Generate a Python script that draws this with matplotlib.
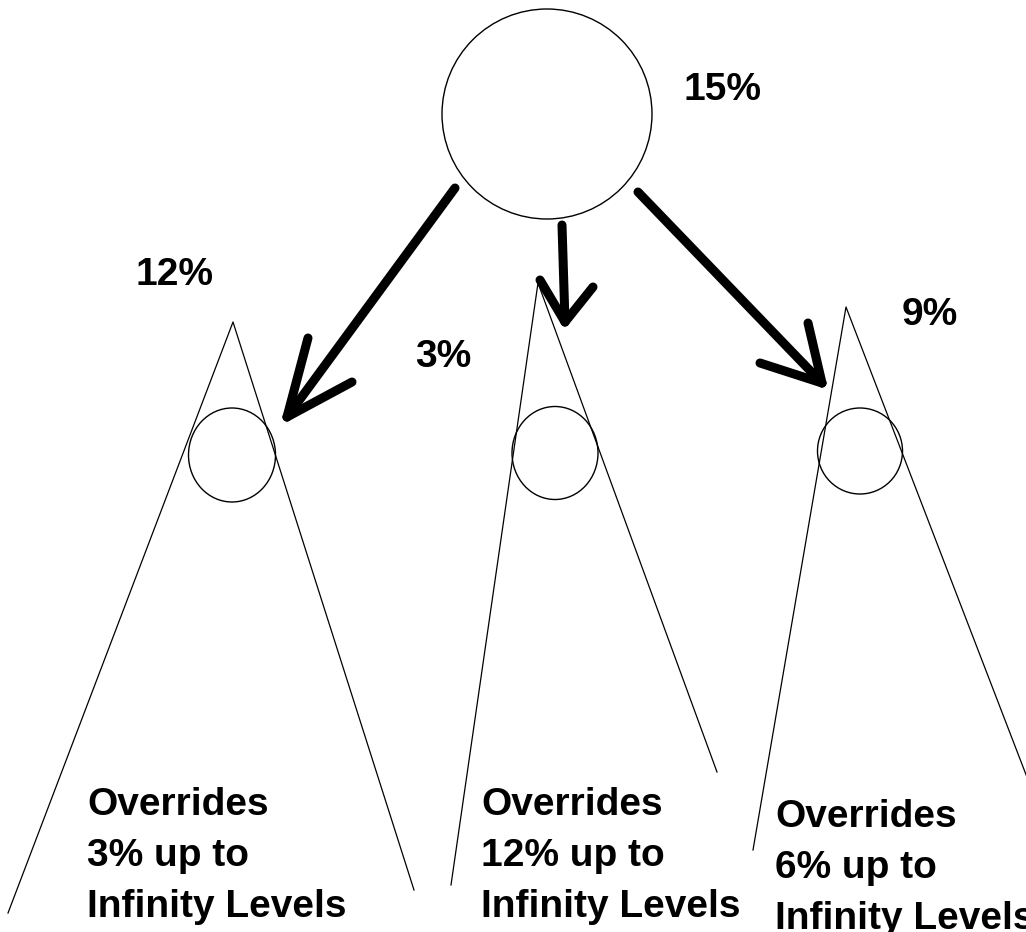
import matplotlib
matplotlib.use('Agg')
import matplotlib.pyplot as plt
from matplotlib.patches import Circle, Ellipse

# 图的几何信息 (像素坐标, y 向下)
top_circle = (547, 114, 105)           # 顶部大圆: 圆心 x, y, 半径
top_label = '15%'

# 三个三角形: 顶点, 左下角, 右下角
triangles = [
    [(233, 322), (8, 913), (414, 890)],
    [(538, 283), (451, 885), (717, 772)],
    [(846, 307), (753, 850), (1030, 785)],
]
# 三角形内的小圆 (圆心 x, y, 宽, 高)
small_circles = [
    (232, 455, 87, 94),
    (555, 453, 86, 93),
    (860, 451, 85, 86),
]

branch_labels = ['12%', '3%', '9%']
branch_label_pos = [(135, 285), (415, 367), (902, 325)]

# 箭头: 起点, 终点, 两个倒钩端点
arrows = [
    [(455, 188), (287, 417), (308, 338), (352, 382)],
    [(562, 225), (565, 322), (540, 280), (593, 287)],
    [(638, 192), (822, 383), (808, 323), (760, 363)],
]

override_pct = ['3%', '12%', '6%']
block_pos = [(87, 815), (481, 815), (775, 827)]

plt.rcParams['font.family'] = ['Liberation Sans', 'DejaVu Sans']

fig = plt.figure(figsize=(10.26, 9.32), dpi=100)
ax = fig.add_axes([0, 0, 1, 1])
ax.set_xlim(0, 1026)
ax.set_ylim(932, 0)
ax.axis('off')

cx, cy, r = top_circle
ax.add_patch(Circle((cx, cy), r, fill=False, ec='black', lw=1.0))
ax.text(683, 100, top_label, fontsize=28, fontweight='bold', va='baseline', ha='left')

for tri in triangles:
    apex, left, right = tri
    ax.plot([left[0], apex[0], right[0]], [left[1], apex[1], right[1]],
            color='black', lw=0.9)

for x, y, w, h in small_circles:
    ax.add_patch(Ellipse((x, y), w, h, fill=False, ec='black', lw=1.0))

for lab, (x, y) in zip(branch_labels, branch_label_pos):
    ax.text(x, y, lab, fontsize=28, fontweight='bold', va='baseline', ha='left')

for start, tip, b1, b2 in arrows:
    for p in (start, b1, b2):
        ax.plot([p[0], tip[0]], [p[1], tip[1]], color='black', lw=6.5,
                solid_capstyle='round')

for pct, (x, y) in zip(override_pct, block_pos):
    lines = ['Overrides', pct + ' up to', 'Infinity Levels']
    for i, line in enumerate(lines):
        ax.text(x, y + i * 51, line, fontsize=28, fontweight='bold',
                va='baseline', ha='left')

fig.savefig('out.png', dpi=100)
